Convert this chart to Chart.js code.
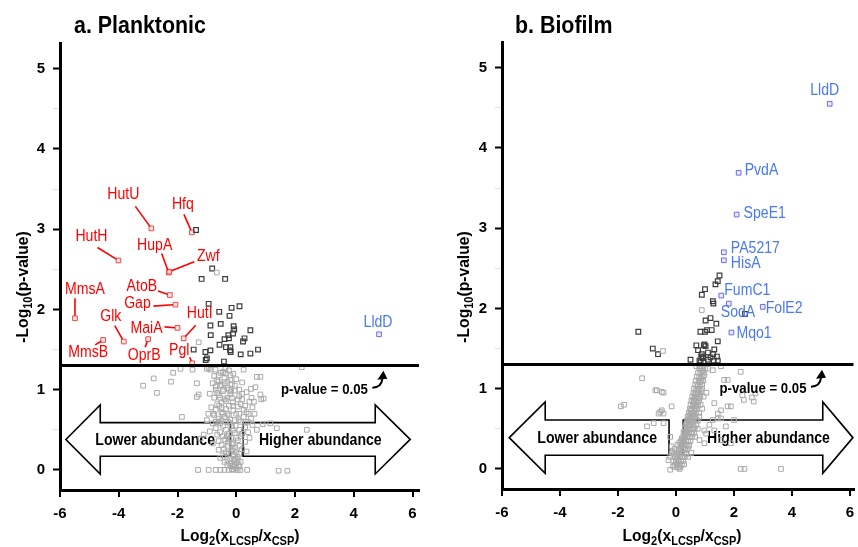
<!DOCTYPE html>
<html>
<head>
<meta charset="utf-8">
<script src="https://cdn.jsdelivr.net/npm/chart.js@4.4.0/dist/chart.umd.min.js"></script>
<style>
  body { margin: 0; background: #fff; width: 858px; height: 547px; overflow: hidden; position: relative; }
  .panel { position: absolute; top: 0; height: 547px; }
  #left { left: 0; width: 430px; }
  #right { left: 430px; width: 428px; }
</style>
</head>
<body>
<div class="panel" id="left"><canvas id="plankChart"></canvas></div>
<div class="panel" id="right"><canvas id="bioChart"></canvas></div>
<script>
// ---- planktonic: log2 fold change / -log10 p ----
const planktonicHitNames = ['HutU', 'Hfq', 'HutH', 'HupA', 'Zwf', 'MmsA', 'AtoB', 'Gap', 'HutI', 'MaiA', 'Glk', 'MmsB', 'OprB', 'Pgl'];
const planktonicHitX = [-2.89, -1.51, -4.01, -2.30, -2.28, -5.49, -2.26, -2.07, -1.79, -2.00, -3.83, -4.53, -3.00, -1.50];
const planktonicHitY = [3.01, 2.96, 2.61, 2.46, 2.47, 1.89, 2.18, 2.06, 1.64, 1.77, 1.60, 1.62, 1.63, 1.33];
const planktonicUpNames = ['LldD'];
const planktonicUpX = [4.86];
const planktonicUpY = [1.69];
const planktonicSig = [
  [-1.37, 2.99], [-0.82, 2.51], [-1.18, 2.38], [-0.38, 2.38], [-0.94, 2.07], [-0.16, 2.02], [0.11, 2.04],
  [-0.58, 1.97], [-0.23, 1.92], [-0.88, 1.80], [-0.53, 1.82], [-0.07, 1.75], [0.48, 1.74], [-0.87, 1.68],
  [-0.27, 1.68], [-0.11, 1.70], [-0.40, 1.63], [-0.25, 1.64], [0.28, 1.64], [0.23, 1.60], [-0.57, 1.56],
  [-0.35, 1.53], [-0.20, 1.53], [-1.45, 1.50], [-1.05, 1.47], [-0.88, 1.49], [-0.19, 1.47], [0.15, 1.44],
  [0.48, 1.45], [0.74, 1.50], [-1.04, 1.37], [-1.00, 1.39], [-0.42, 1.35], [-0.09, 1.79], [-0.21, 1.49]
];
const planktonicNS = [
  [-1.30, 0.00], [-0.94, 0.00], [-0.70, 0.00], [-0.54, 0.00], [-0.40, 0.00], [-0.26, 0.00], [-0.15, 0.01],
  [-0.09, 0.00], [0.00, 0.02], [0.05, 0.00], [0.14, 0.00], [0.37, 0.00], [1.44, -0.01], [1.74, -0.01],
  [-0.30, 0.06], [-0.20, 0.08], [-0.12, 0.05], [-0.05, 0.07], [0.02, 0.09], [0.08, 0.06], [0.15, 0.10],
  [-0.08, 0.12], [-0.02, 0.14], [0.05, 0.16], [-0.55, 0.15], [-0.40, 0.10], [-0.20, 0.14], [-0.10, 0.17],
  [0.05, 0.12], [-0.45, 0.18], [-0.35, 0.22], [-0.25, 0.20], [-0.15, 0.24], [-0.08, 0.19], [0.00, 0.22],
  [0.10, 0.20], [0.20, 0.26], [-0.60, 0.25], [0.35, 0.23], [-0.05, 0.28], [0.12, 0.30], [-0.30, 0.30],
  [-0.15, 0.32], [-0.80, 0.33], [-0.60, 0.36], [-0.50, 0.31], [-0.38, 0.38], [-0.28, 0.34], [-0.18, 0.40],
  [-0.10, 0.33], [0.05, 0.37], [0.15, 0.42], [0.30, 0.35], [0.45, 0.40], [0.00, 0.40], [-0.45, 0.42],
  [-0.65, 0.44], [-0.25, 0.45], [-0.05, 0.46], [-1.11, 0.44], [-1.22, 0.39], [-0.90, 0.48], [-0.70, 0.52],
  [-0.55, 0.47], [-0.45, 0.55], [-0.35, 0.50], [-0.22, 0.58], [-0.12, 0.49], [0.10, 0.50], [0.30, 0.53],
  [0.40, 0.47], [0.55, 0.56], [0.70, 0.50], [1.16, 0.58], [1.38, 0.52], [2.40, 0.50], [0.90, 0.57],
  [-0.80, 0.58], [-0.60, 0.60], [-0.28, 0.60], [0.15, 0.60], [0.40, 0.60], [-0.35, 0.60], [-1.00, 0.62],
  [-0.75, 0.68], [-0.60, 0.64], [-0.50, 0.72], [-0.40, 0.66], [-0.30, 0.70], [-0.20, 0.63], [-0.10, 0.74],
  [0.10, 0.70], [0.25, 0.66], [0.35, 0.72], [0.50, 0.64], [0.62, 0.70], [-1.85, 0.66], [-0.95, 0.70],
  [-0.70, 0.75], [-0.45, 0.70], [0.25, 0.75], [-0.85, 0.78], [-0.65, 0.82], [-0.50, 0.77], [-0.35, 0.86],
  [-0.25, 0.80], [-0.12, 0.84], [0.05, 0.79], [0.15, 0.82], [0.20, 0.88], [0.30, 0.80], [0.45, 0.85],
  [0.55, 0.78], [0.93, 0.89], [0.85, 0.88], [-0.75, 0.90], [-0.55, 0.90], [-0.40, 0.88], [-0.15, 0.90],
  [-0.90, 0.95], [-0.70, 1.00], [-0.60, 0.93], [-0.45, 0.98], [-0.30, 1.02], [-0.20, 0.94], [-0.05, 0.99],
  [0.10, 0.92], [0.35, 0.97], [0.50, 1.01], [0.65, 1.03], [0.82, 0.94], [-1.34, 0.91], [-1.28, 0.94],
  [-2.70, 0.96], [-0.70, 1.04], [-0.55, 1.05], [-0.25, 1.00], [-0.80, 1.08], [-0.65, 1.12], [-0.50, 1.06],
  [-0.40, 1.15], [-0.30, 1.10], [-0.15, 1.07], [0.00, 1.13], [0.20, 1.09], [0.70, 1.16], [-2.81, 1.14],
  [-3.17, 1.05], [-2.22, 1.10], [-1.34, 1.08], [0.82, 1.16], [-0.60, 1.18], [-0.45, 1.22], [-0.25, 1.24],
  [-0.10, 1.20], [-1.90, 1.26], [-1.49, 1.25], [-1.00, 1.26], [-0.88, 1.25], [-0.71, 1.25], [-0.54, 1.21],
  [-0.37, 1.27], [-0.20, 1.18], [0.25, 1.25], [2.23, 1.28], [-2.15, 1.21], [-0.94, 1.27],
  [-0.50, 0.84], [-0.30, 0.90], [-0.10, 0.80], [-0.60, 1.10], [-0.45, 1.00], [-0.35, 0.76], [-0.55, 0.58],
  [-0.15, 0.55], [-0.05, 0.62], [0.00, 0.70], [-0.25, 0.38], [-0.42, 0.26], [-0.20, 0.05], [-0.08, 0.04],
  [0.10, 0.04], [-0.12, 0.26], [-0.30, 0.12], [-0.65, 0.96], [-0.20, 1.12], [-0.05, 1.05], [0.10, 1.00],
  [-0.40, 1.08], [-0.75, 1.17], [-0.32, 0.42], [-0.02, 0.55], [0.20, 0.45], [0.08, 0.62], [-0.50, 0.62],
  [-0.70, 0.60], [-0.25, 0.68], [-0.58, 0.80], [-0.78, 0.70], [0.32, 0.60], [0.42, 0.70], [0.52, 0.90],
  [0.60, 0.85], [-0.18, 0.98], [0.20, 0.95], [-0.35, 1.20], [0.05, 0.88],
  [-0.66, 2.46], [-1.28, 1.59]
];

// ---- biofilm ----
const biofilmHitNames = ['LldD', 'PvdA', 'SpeE1', 'PA5217', 'HisA', 'FumC1', 'SodA', 'FolE2', 'Mqo1'];
const biofilmHitX = [5.30, 2.16, 2.09, 1.65, 1.65, 1.56, 1.82, 2.99, 1.91];
const biofilmHitY = [4.55, 3.69, 3.17, 2.70, 2.60, 2.16, 2.06, 2.02, 1.70];
const biofilmSig = [
  [1.50, 2.41], [1.44, 2.34], [1.36, 2.30], [1.00, 2.24], [0.89, 2.17], [1.27, 2.09], [1.29, 2.06],
  [1.19, 1.88], [1.02, 1.85], [1.39, 1.81], [1.07, 1.73], [1.00, 1.71], [0.84, 1.71], [1.23, 1.73],
  [-1.30, 1.71], [1.44, 1.59], [0.98, 1.55], [1.02, 1.53], [0.70, 1.54], [0.76, 1.48], [1.32, 1.49],
  [1.10, 1.45], [0.89, 1.43], [0.87, 1.40], [0.94, 1.40], [1.19, 1.39], [1.28, 1.43], [1.41, 1.40],
  [-0.80, 1.50], [-0.62, 1.43], [0.50, 1.36], [0.81, 1.35], [1.10, 1.36], [1.30, 1.35], [1.44, 1.35],
  [0.92, 1.38], [0.85, 1.33], [0.95, 1.34], [0.96, 1.54], [2.38, 1.93]
];
const biofilmNS = [
  [0.02, 0.02], [0.08, 0.02], [0.15, 0.02], [-0.05, 0.05], [0.05, 0.05], [0.12, 0.05], [0.20, 0.05],
  [-0.10, 0.10], [0.00, 0.10], [0.10, 0.10], [0.18, 0.10], [0.25, 0.10], [-0.20, 0.15], [0.05, 0.15],
  [0.15, 0.15], [0.22, 0.15], [0.30, 0.15], [-0.15, 0.20], [0.10, 0.20], [0.20, 0.20], [0.28, 0.20],
  [0.35, 0.20], [-0.05, 0.25], [0.15, 0.25], [0.25, 0.25], [0.32, 0.25], [0.40, 0.25], [0.05, 0.30],
  [0.20, 0.30], [0.30, 0.30], [0.36, 0.30], [0.45, 0.30], [0.18, 0.35], [0.28, 0.35], [0.35, 0.35],
  [0.42, 0.35], [0.50, 0.35], [0.25, 0.40], [0.33, 0.40], [0.40, 0.40], [0.48, 0.40], [0.56, 0.40],
  [0.30, 0.45], [0.38, 0.45], [0.45, 0.45], [0.52, 0.45], [0.62, 0.45], [0.32, 0.50], [0.40, 0.50],
  [0.48, 0.50], [0.55, 0.50], [0.65, 0.50], [0.35, 0.55], [0.44, 0.55], [0.50, 0.55], [0.58, 0.55],
  [0.70, 0.55], [0.38, 0.60], [0.46, 0.60], [0.54, 0.60], [0.62, 0.60], [0.75, 0.60], [0.40, 0.65],
  [0.50, 0.65], [0.57, 0.65], [0.66, 0.65], [0.80, 0.65], [0.44, 0.70], [0.52, 0.70], [0.60, 0.70],
  [0.70, 0.70], [0.48, 0.75], [0.55, 0.75], [0.64, 0.75], [0.72, 0.75], [0.90, 0.75], [0.50, 0.80],
  [0.58, 0.80], [0.66, 0.80], [0.76, 0.80], [0.53, 0.85], [0.62, 0.85], [0.70, 0.85], [0.80, 0.85],
  [0.56, 0.90], [0.64, 0.90], [0.72, 0.90], [0.84, 0.90], [0.60, 0.95], [0.68, 0.95], [0.76, 0.95],
  [0.62, 1.00], [0.70, 1.00], [0.80, 1.00], [0.90, 1.00], [0.66, 1.05], [0.74, 1.05], [0.84, 1.05],
  [0.68, 1.10], [0.78, 1.10], [0.88, 1.10], [0.72, 1.15], [0.80, 1.15], [0.92, 1.15], [0.76, 1.20],
  [0.84, 1.20], [0.95, 1.20], [0.80, 1.25], [0.88, 1.25], [1.00, 1.25], [1.10, 1.25], [0.82, 1.28],
  [0.90, 1.28], [0.70, 1.28],
  [0.00, 0.08], [0.06, 0.12], [0.12, 0.18], [0.08, 0.22], [0.18, 0.28], [0.12, 0.33], [0.24, 0.32],
  [0.20, 0.38], [0.30, 0.42], [0.26, 0.46], [0.36, 0.48], [0.30, 0.52], [0.42, 0.53], [0.36, 0.57],
  [0.48, 0.58], [0.42, 0.62], [0.55, 0.63], [0.46, 0.67], [0.60, 0.68], [0.52, 0.73], [0.64, 0.72],
  [0.58, 0.78], [0.70, 0.78], [0.62, 0.82], [0.74, 0.83], [0.66, 0.88], [0.78, 0.88], [0.70, 0.93],
  [0.82, 0.93], [0.74, 0.98], [0.86, 0.97], [0.76, 1.03], [0.90, 1.05], [0.82, 1.08], [0.94, 1.10],
  [0.86, 1.13], [0.98, 1.17], [0.90, 1.22], [0.66, 0.94], [0.60, 0.86], [0.55, 0.69], [0.50, 0.62],
  [0.44, 0.58], [0.40, 0.47], [0.34, 0.43], [0.28, 0.38], [0.22, 0.36], [0.16, 0.28], [0.10, 0.24],
  [-0.08, 0.18], [-0.12, 0.22], [0.02, 0.18], [0.85, 0.80], [0.95, 0.90], [1.05, 0.95], [0.80, 0.70],
  [0.70, 0.62], [0.62, 0.52], [0.75, 0.50], [0.56, 0.44], [0.66, 0.40], [0.44, 0.28], [0.35, 0.18],
  [0.28, 0.06], [0.12, 0.00], [-0.10, 0.03],
  [-1.90, 0.78], [-1.79, 0.80], [-1.17, 1.13], [-0.66, 0.98], [-0.43, 0.95], [-0.71, 0.98], [-0.49, 0.96],
  [-0.15, 0.78], [-0.54, 0.71], [-0.43, 0.69], [-0.60, 0.69], [-0.49, 0.73], [-0.77, 0.57], [-1.00, 0.53],
  [-0.43, 0.57], [-0.20, 0.40], [-0.15, 0.28], [-0.03, 0.15], [-0.26, 0.11], [-0.20, -0.01],
  [1.55, 1.28], [1.27, 1.23], [1.66, 1.11], [1.78, 1.11], [2.23, 1.21], [2.34, 0.86], [2.62, 0.89],
  [1.89, 0.78], [1.32, 0.82], [1.44, 0.69], [1.55, 0.63], [1.04, 0.44], [1.32, 0.48], [0.81, 0.36],
  [0.98, 0.32], [2.23, 0.00], [2.36, 0.00], [3.62, 0.00], [0.53, 0.20], [0.42, 0.15], [2.29, 0.92],
  [2.74, 0.94], [2.68, 0.84], [1.55, 0.73], [1.78, 0.78], [2.00, 0.61], [1.44, 0.63], [1.72, 0.53],
  [1.89, 0.32], [1.55, 0.36], [0.98, 0.48], [1.15, 0.55], [1.27, 0.61], [0.89, 1.98], [-0.45, 1.47]
];

const PVALUE_LINE = 1.301;   // -log10(0.05)

// label offsets in px from the point: [labelDx, labelDy, leaderDx, leaderDy]
const planktonicLeaders = {
  HutU: [-28, -34, -16, -22], Hfq: [-9, -28, -8, -18], HutH: [-27, -24, -21, -13],
  HupA: [-14, -27, -7, -19], Zwf: [39, -15, 25, -10], MmsA: [10, -29, 0, -20],
  AtoB: [-28, -8, -12, -4], Gap: [-38, -1, -22, 1.5], HutI: [16, -25, 12, -13],
  MaiA: [-31, 1, -13, -1], Glk: [-13, -25, -9, -16], MmsB: [-15, 13, -8, 5],
  OprB: [-4, 16, -3, 8], Pgl: [-13, -13, -2.5, -6]
};
const planktonicUpTags = { LldD: [-1, -12, 'center'] };
const biofilmTags = {
  LldD: [-5, -13, 'center'], PvdA: [6, -2, 'left'], SpeE1: [7, -1, 'left'],
  PA5217: [7, -4, 'left'], HisA: [7, 3, 'left'], FumC1: [3, -5, 'left'],
  SodA: [-8, 9, 'left'], FolE2: [3, 2, 'left'], Mqo1: [5, 1, 'left']
};

const FONT = '"Liberation Sans", Arial, sans-serif';
const SQUEEZE = 0.88;

function squeezeText(ctx, text, x, y, align, font, color, sx) {
  ctx.save();
  ctx.font = font;
  ctx.fillStyle = color;
  ctx.textBaseline = 'middle';
  ctx.textAlign = 'left';
  const w = ctx.measureText(text).width * sx;
  const left = align === 'center' ? x - w / 2 : align === 'right' ? x - w : x;
  ctx.translate(left, y);
  ctx.scale(sx, 1);
  ctx.fillText(text, 0, 0);
  ctx.restore();
}

// text runs with subscripts, centred on (cx, cy), optionally rotated
function subscriptTitle(ctx, runs, cx, cy, angle) {
  const big = 'bold 17px ' + FONT, small = 'bold 12px ' + FONT;
  const sx = 0.92;
  ctx.save();
  ctx.translate(cx, cy);
  ctx.rotate(angle);
  let total = 0;
  runs.forEach(r => { ctx.font = r[1] ? small : big; total += ctx.measureText(r[0]).width; });
  ctx.scale(sx, 1);
  let x = -total / 2;
  ctx.fillStyle = '#000';
  ctx.textBaseline = 'alphabetic';
  ctx.textAlign = 'left';
  runs.forEach(r => {
    ctx.font = r[1] ? small : big;
    ctx.fillText(r[0], x, r[1] ? 10 : 6);
    x += ctx.measureText(r[0]).width;
  });
  ctx.restore();
}

function blockArrow(ctx, pts) {
  ctx.beginPath();
  pts.forEach((p, i) => i ? ctx.lineTo(p[0], p[1]) : ctx.moveTo(p[0], p[1]));
  ctx.closePath();
  ctx.fillStyle = '#fff';
  ctx.fill();
  ctx.lineWidth = 1.6;
  ctx.strokeStyle = '#000';
  ctx.lineJoin = 'miter';
  ctx.stroke();
}

function makeDecor(cfg) {
  return {
    id: 'volcanoDecor',
    beforeDatasetsDraw(chart) {
      const { ctx, scales: { x, y } } = chart;
      const a = cfg.arrows;
      const yb1 = y.getPixelForValue(a.mid + a.body), yb2 = y.getPixelForValue(a.mid - a.body);
      const yh1 = y.getPixelForValue(a.mid + a.head), yh2 = y.getPixelForValue(a.mid - a.head);
      const ym = y.getPixelForValue(a.mid);
      const X = v => x.getPixelForValue(v);
      ctx.save();
      blockArrow(ctx, [[X(a.lTip), ym], [X(a.lHead), yh1], [X(a.lHead), yb1], [X(a.lEnd), yb1],
                       [X(a.lEnd), yb2], [X(a.lHead), yb2], [X(a.lHead), yh2]]);
      blockArrow(ctx, [[X(a.rTip), ym], [X(a.rHead), yh1], [X(a.rHead), yb1], [X(a.rStart), yb1],
                       [X(a.rStart), yb2], [X(a.rHead), yb2], [X(a.rHead), yh2]]);
      const f = 'bold 16px ' + FONT;
      squeezeText(ctx, 'Lower abundance', X(a.lText), ym + 1, 'center', f, '#000', SQUEEZE);
      squeezeText(ctx, 'Higher abundance', X(a.rText), ym + 1, 'center', f, '#000', SQUEEZE);
      ctx.restore();
    },
    afterDatasetsDraw(chart) {
      const { ctx, chartArea, scales: { x, y } } = chart;
      ctx.save();
      // significance threshold
      const yl = y.getPixelForValue(PVALUE_LINE);
      ctx.beginPath();
      ctx.moveTo(chartArea.left, yl);
      ctx.lineTo(chartArea.right, yl);
      ctx.lineWidth = 3;
      ctx.strokeStyle = '#000';
      ctx.stroke();

      // p-value note with curled arrow
      const px = x.getPixelForValue(3.0), py = y.getPixelForValue(1.0);
      squeezeText(ctx, 'p-value = 0.05', px, py, 'center', 'bold 15px ' + FONT, '#000', SQUEEZE);
      const ax = px + 48, ay = py - 2;
      ctx.beginPath();
      ctx.moveTo(ax, ay);
      ctx.quadraticCurveTo(ax + 9, ay, ax + 10, ay - 9);
      ctx.lineWidth = 2;
      ctx.stroke();
      ctx.beginPath();
      ctx.moveTo(ax + 5, ay - 8);
      ctx.lineTo(ax + 15, ay - 9);
      ctx.lineTo(ax + 11, ay - 17);
      ctx.closePath();
      ctx.fillStyle = '#000';
      ctx.fill();

      // red leader labels
      if (cfg.leaders) {
        const meta = chart.getDatasetMeta(2);
        cfg.hitNames.forEach((name, i) => {
          const el = meta.data[i], o = cfg.leaders[name];
          if (!el || !o) return;
          const sx = el.x + o[2], sy = el.y + o[3];
          const dx = el.x - sx, dy = el.y - sy, len = Math.hypot(dx, dy) || 1;
          ctx.beginPath();
          ctx.moveTo(sx, sy);
          ctx.lineTo(el.x - dx / len * 2.5, el.y - dy / len * 2.5);
          ctx.lineWidth = 1.6;
          ctx.strokeStyle = '#ff0000';
          ctx.stroke();
          squeezeText(ctx, name, el.x + o[0], el.y + o[1], 'center', '16px ' + FONT, '#ff0000', SQUEEZE);
        });
      }
      // blue tags
      const bmeta = chart.getDatasetMeta(3);
      cfg.tagNames.forEach((name, i) => {
        const el = bmeta.data[i], o = cfg.tags[name];
        if (!el || !o) return;
        squeezeText(ctx, name, el.x + o[0], el.y + o[1], o[2], '16px ' + FONT, '#4a78f2', SQUEEZE);
      });
      ctx.restore();
    },
    afterDraw(chart) {
      const { ctx } = chart;
      ctx.save();
      ctx.font = 'bold 23px ' + FONT;
      ctx.fillStyle = '#000';
      ctx.textBaseline = 'alphabetic';
      ctx.translate(cfg.titleX, 33);
      ctx.scale(0.93, 1);
      ctx.fillText(cfg.title, 0, 0);
      ctx.restore();
      subscriptTitle(ctx, [['-Log', false], ['10', true], ['(p-value)', false]], cfg.yTitleX, 287, -Math.PI / 2);
      subscriptTitle(ctx, [['Log', false], ['2', true], ['(x', false], ['LCSP', true], ['/x', false], ['CSP', true], [')', false]],
        cfg.xTitleX, 535, 0);
    }
  };
}

const pts = arr => arr.map(p => ({ x: p[0], y: p[1] }));
const zipPts = (xs, ys) => xs.map((v, i) => ({ x: v, y: ys[i] }));

function volcano(canvasId, cfg) {
  const square = { pointStyle: 'rect', pointRadius: 3.3, pointHoverRadius: 3.3, borderWidth: 1, backgroundColor: 'rgba(255,255,255,0)' };
  new Chart(document.getElementById(canvasId), {
    type: 'scatter',
    data: {
      datasets: [
        { ...square, data: pts(cfg.ns), borderColor: '#a9a9a9' },
        { ...square, data: pts(cfg.sig), borderColor: '#3c3c3c', borderWidth: 1.2 },
        { ...square, data: zipPts(cfg.hitX, cfg.hitY), borderColor: '#f04848', backgroundColor: 'rgba(255,210,210,0.6)' },
        { ...square, data: zipPts(cfg.tagX, cfg.tagY), borderColor: '#6a6af2', backgroundColor: 'rgba(220,220,255,0.6)' }
      ]
    },
    options: {
      responsive: true,
      maintainAspectRatio: false,
      animation: false,
      layout: { padding: { top: cfg.top, right: cfg.right, left: 0, bottom: 0 } },
      plugins: { legend: { display: false }, tooltip: { enabled: false } },
      scales: {
        x: {
          type: 'linear', min: -6, max: cfg.xMax,
          ticks: { stepSize: 2, includeBounds: false, padding: 8, color: '#000', font: { family: FONT, size: 15, weight: 'bold' } },
          grid: { drawOnChartArea: false, drawTicks: true, tickLength: 7, color: '#000', lineWidth: 2 },
          border: { display: true, width: 3, color: '#000' },
          afterFit(s) { s.height = cfg.xHeight; s.paddingLeft = 0; s.paddingRight = 0; }
        },
        y: {
          type: 'linear', min: -0.25, max: 5.32,
          ticks: {
            stepSize: 0.5, includeBounds: false, padding: 8, color: '#000',
            font: { family: FONT, size: 15, weight: 'bold' },
            callback: v => Number.isInteger(v) ? String(v) : ''
          },
          grid: {
            drawOnChartArea: false, drawTicks: true, tickLength: 7,
            tickColor: c => Number.isInteger(c.tick && c.tick.value) ? '#000' : '#e2e2e2',
            tickWidth: c => Number.isInteger(c.tick && c.tick.value) ? 2 : 1
          },
          border: { display: true, width: 3, color: '#000' },
          afterFit(s) { s.width = cfg.yWidth; s.paddingTop = 0; s.paddingBottom = 0; }
        }
      }
    },
    plugins: [makeDecor(cfg)]
  });
}

volcano('plankChart', {
  ns: planktonicNS, sig: planktonicSig,
  hitX: planktonicHitX, hitY: planktonicHitY, hitNames: planktonicHitNames, leaders: planktonicLeaders,
  tagX: planktonicUpX, tagY: planktonicUpY, tagNames: planktonicUpNames, tags: planktonicUpTags,
  xMax: 6.22, top: 43, right: 11, yWidth: 60, xHeight: 57,
  title: 'a. Planktonic', titleX: 74, yTitleX: 22, xTitleX: 240,
  arrows: { mid: 0.38, body: 0.21, head: 0.43, lTip: -5.8, lHead: -4.63, lEnd: -0.2, lText: -2.76,
            rStart: 0.23, rHead: 4.73, rTip: 5.92, rText: 2.86 }
});

volcano('bioChart', {
  ns: biofilmNS, sig: biofilmSig,
  hitX: [], hitY: [], hitNames: [], leaders: null,
  tagX: biofilmHitX, tagY: biofilmHitY, tagNames: biofilmHitNames, tags: biofilmTags,
  xMax: 6.12, top: 42, right: 0, yWidth: 72, xHeight: 58,
  title: 'b. Biofilm', titleX: 85, yTitleX: 33, xTitleX: 252,
  arrows: { mid: 0.39, body: 0.22, head: 0.445, lTip: -5.75, lHead: -4.51, lEnd: -0.24, lText: -2.72,
            rStart: 0.25, rHead: 5.06, rTip: 6.1, rText: 3.19 }
});
</script>
</body>
</html>
